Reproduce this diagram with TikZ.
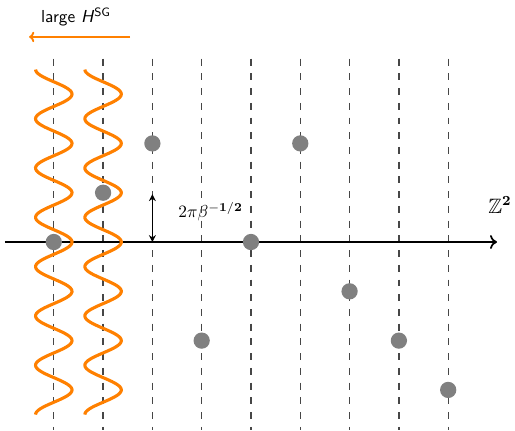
\documentclass[tikz,border=0pt]{standalone}
\usepackage{amssymb}
\usetikzlibrary{arrows.meta}
\definecolor{wave}{RGB}{255,128,0}
\definecolor{dotgray}{RGB}{128,128,128}
\definecolor{dashgray}{RGB}{70,70,70}
\begin{document}
\begin{tikzpicture}[
  gridline/.style={dashgray, line width=0.8pt, dash pattern=on 4pt off 4.5pt},
  latticept/.style={circle, fill=dotgray, inner sep=0pt, minimum size=0.33cm},
  wavy/.style={wave, line width=1.8pt},
  lbl/.style={font=\sffamily, inner sep=1pt}
]
\useasboundingbox (-5.091,-3.813) rectangle (5.355,4.909);
% dashed vertical lines
\foreach \i in {-4,...,4}{
  \coordinate (t\i) at (\i,3.72);
  \coordinate (b\i) at (\i,-3.82);
  \draw[gridline] (t\i) -- (b\i);
}
% axis
\coordinate (axl) at (-4.99,0);
\coordinate (axr) at (4.99,0);
\draw[line width=1pt, -{To[length=4pt,width=8pt]}] (axl) -- (axr);
\node[lbl, font=\large] (zz) at (5.05,0.75) {$\mathbb{Z}^{\mathsf{\mathbf{2}}}$};
% waves
\draw[wavy] plot[domain=-3.5:3.5, samples=240, smooth] ({-4+0.37*cos(360*\x)}, \x);
\draw[wavy] plot[domain=-3.5:3.5, samples=240, smooth] ({-3+0.37*cos(360*\x)}, \x);
% lattice points
\node[latticept] (p1) at (-4,0) {};
\node[latticept] (p2) at (-3,1) {};
\node[latticept] (p3) at (-2,2) {};
\node[latticept] (p4) at (-1,-2) {};
\node[latticept] (p5) at (0,0) {};
\node[latticept] (p6) at (1,2) {};
\node[latticept] (p7) at (2,-1) {};
\node[latticept] (p8) at (3,-2) {};
\node[latticept] (p9) at (4,-3) {};
% spacing arrow
\coordinate (sa) at (-2,0);
\coordinate (sb) at (-2,0.97);
\draw[line width=1pt, {Stealth[length=4pt,width=4pt]}-{Stealth[length=4pt,width=4pt]}] (sa) -- (sb);
\node[lbl] (sp) at (-0.82,0.62) {$2\pi\beta^{-\mathsf{\mathbf{1/2}}}$};
% orange arrow
\coordinate (oa) at (-2.45,4.16);
\coordinate (ob) at (-4.5,4.16);
\draw[wave, line width=1.1pt, -{To[length=3pt,width=6pt]}] (oa) -- (ob);
\node[lbl] (lh) at (-3.55,4.56) {large \textit{H}$^{\mathsf{SG}}$};
\end{tikzpicture}
\end{document}
